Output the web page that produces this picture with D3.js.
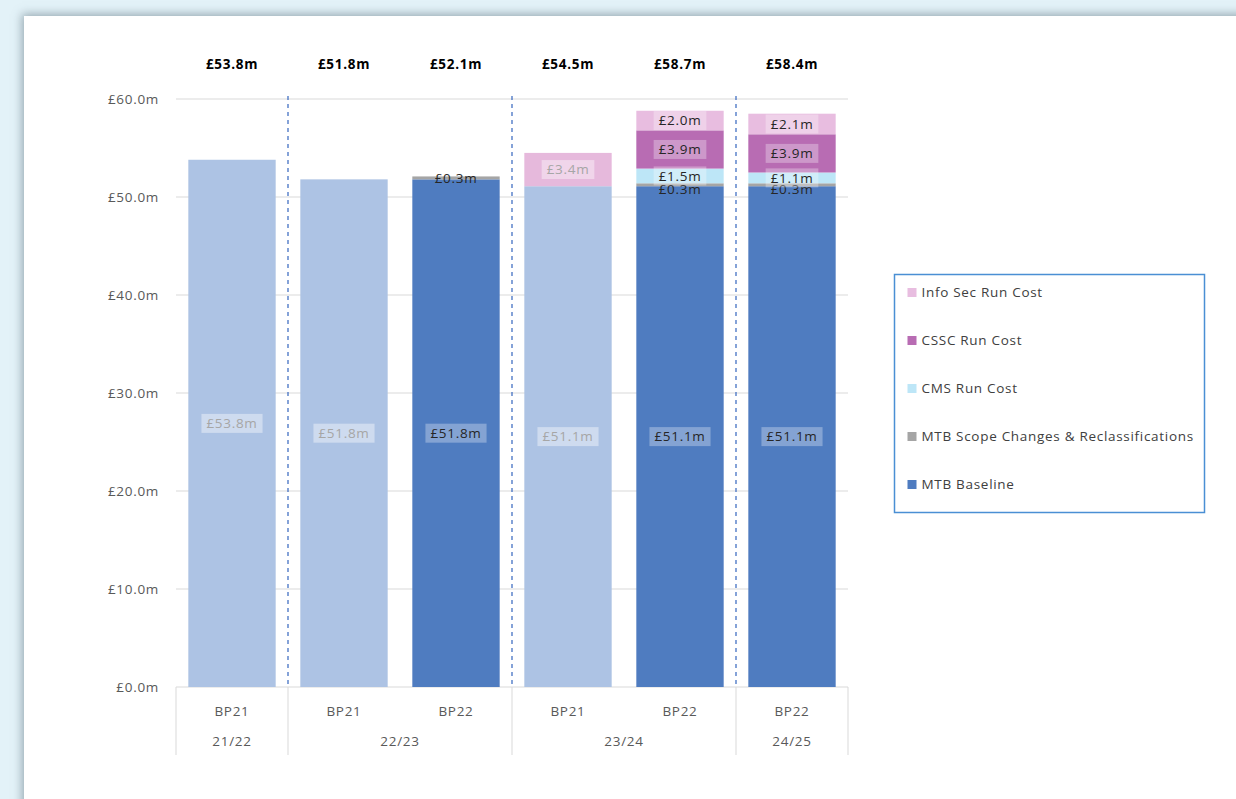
<!DOCTYPE html>
<html>
<head>
<meta charset="utf-8">
<script src="https://cdn.jsdelivr.net/npm/d3@7"></script>
<style>
  html, body { margin: 0; padding: 0; overflow: hidden; background: #e3f2f8; }
  #card { position: absolute; left: 24px; top: 16px; width: 1300px; height: 900px;
          background: #fff; box-shadow: 0 0 9px 2px rgba(90, 110, 120, 0.55); }
  #chart { position: absolute; left: 0; top: 0; }
  text { font-family: "Open Sans", "Noto Sans", sans-serif; letter-spacing: 0.7px; }
</style>
</head>
<body>
<div id="card"></div>
<svg id="chart"></svg>
<script>
// plan / year for each bar
const plans = ["BP21", "BP21", "BP22", "BP21", "BP22", "BP22"];
const years = ["21/22", "22/23", "22/23", "23/24", "23/24", "24/25"];

// series, bottom to top (£m)
const seriesNames = ["MTB Baseline", "MTB Scope Changes & Reclassifications", "CMS Run Cost", "CSSC Run Cost", "Info Sec Run Cost"];
const mtbBaseline = [53.8, 51.8, 51.8, 51.1, 51.1, 51.1];
const scopeChanges = [0, 0, 0.3, 0, 0.3, 0.3];
const cmsRun = [0, 0, 0, 0, 1.5, 1.1];
const csscRun = [0, 0, 0, 0, 3.9, 3.9];
const infoSecRun = [0, 0, 0, 3.4, 2.0, 2.1];
const totals = [53.8, 51.8, 52.1, 54.5, 58.7, 58.4];

const yTicks = [0, 10, 20, 30, 40, 50, 60];

const colors = ["#4f7cc0", "#a5a5a5", "#bde6f7", "#b86cb3", "#e8bde0"];
const fadedColors = ["#adc3e4", "#d2d2d2", "#def3fb", "#dbb6d9", "#e6b9dc"];

const W = 1236, H = 799;
const svg = d3.select("#chart").attr("width", W).attr("height", H);

const plot = { left: 176, right: 848, top: 99, bottom: 687 };
const fs = 13.5;

const rows = plans.map((p, i) => ({
  i, plan: p, year: years[i],
  [seriesNames[0]]: mtbBaseline[i],
  [seriesNames[1]]: scopeChanges[i],
  [seriesNames[2]]: cmsRun[i],
  [seriesNames[3]]: csscRun[i],
  [seriesNames[4]]: infoSecRun[i]
}));

const stacked = d3.stack().keys(seriesNames)(rows);

const x = d3.scaleBand()
  .domain(rows.map(d => d.i))
  .range([plot.left, plot.right])
  .paddingInner(0.22)
  .paddingOuter(0.11);

const y = d3.scaleLinear().domain([0, 60]).range([plot.bottom, plot.top]);

const fmt = v => "£" + d3.format(".1f")(v) + "m";

// gridlines
svg.append("g")
  .selectAll("line")
  .data(yTicks)
  .join("line")
  .attr("x1", plot.left).attr("x2", plot.right)
  .attr("y1", d => y(d)).attr("y2", d => y(d))
  .attr("stroke", "#d9d9d9").attr("stroke-width", 1);

// y axis labels
svg.append("g")
  .selectAll("text")
  .data(yTicks)
  .join("text")
  .attr("x", 159)
  .attr("y", d => y(d))
  .attr("dy", "0.35em")
  .attr("text-anchor", "end")
  .attr("font-size", fs)
  .attr("fill", "#595959")
  .text(d => fmt(d));

// bars
const layers = svg.append("g").selectAll("g")
  .data(stacked)
  .join("g");

layers.selectAll("rect")
  .data((s, si) => s.map(d => ({ d, si })))
  .join("rect")
  .attr("x", ({ d }) => x(d.data.i))
  .attr("width", x.bandwidth())
  .attr("y", ({ d }) => y(d[1]))
  .attr("height", ({ d }) => y(d[0]) - y(d[1]))
  .attr("fill", ({ d, si }) => d.data.plan === "BP21" ? fadedColors[si] : colors[si]);

// group boundaries
const groupStarts = rows.filter((r, i) => i === 0 || r.year !== rows[i - 1].year).map(r => r.i);
const step = x.step();
const boundaryX = i => x(i) - step * x.paddingInner() / 2;
const innerBounds = groupStarts.slice(1).map(boundaryX);

svg.append("g")
  .selectAll("line")
  .data(innerBounds)
  .join("line")
  .attr("x1", d => d).attr("x2", d => d)
  .attr("y1", plot.top - 3).attr("y2", plot.bottom)
  .attr("stroke", "#4472c4").attr("stroke-width", 1.3)
  .attr("stroke-dasharray", "4,4");

// data labels
const labels = [];
stacked.forEach((s, si) => {
  s.forEach((d, j) => {
    const v = d[1] - d[0];
    if (v <= 0) return;
    const hasAbove = stacked.slice(si + 1).some(t => t[j][1] - t[j][0] > 0);
    let cy = (y(d[0]) + y(d[1])) / 2;
    if (v < 1 && hasAbove) cy += 5;
    labels.push({ i: d.data.i, plan: d.data.plan, v, cy, small: v < 1 });
  });
});

const lg = svg.append("g").selectAll("g")
  .data(labels)
  .join("g")
  .attr("transform", d => `translate(${x(d.i) + x.bandwidth() / 2},${d.cy})`);

lg.append("text")
  .attr("text-anchor", "middle")
  .attr("dy", "0.35em")
  .attr("font-size", fs)
  .attr("fill", d => d.plan === "BP21" ? "#a6a6a6" : "#262626")
  .text(d => fmt(d.v))
  .each(function (d) { d.bw = this.getComputedTextLength(); });

lg.filter(d => !d.small)
  .insert("rect", "text")
  .attr("x", d => -d.bw / 2 - 5)
  .attr("y", -9.5)
  .attr("width", d => d.bw + 10)
  .attr("height", 19)
  .attr("fill", "#fff")
  .attr("fill-opacity", d => d.plan === "BP21" ? 0.4 : 0.3);

// totals on top
svg.append("g")
  .selectAll("text")
  .data(rows)
  .join("text")
  .attr("x", d => x(d.i) + x.bandwidth() / 2)
  .attr("y", 64)
  .attr("dy", "0.35em")
  .attr("text-anchor", "middle")
  .attr("font-size", fs)
  .attr("font-weight", "bold")
  .attr("fill", "#000")
  .text(d => fmt(totals[d.i]));

// category axis table
const axisBottom = 755;
const tableLines = [plot.left, ...innerBounds, plot.right];
svg.append("g")
  .selectAll("line")
  .data(tableLines)
  .join("line")
  .attr("x1", d => d).attr("x2", d => d)
  .attr("y1", plot.bottom).attr("y2", axisBottom)
  .attr("stroke", "#d9d9d9").attr("stroke-width", 1);

svg.append("g")
  .selectAll("text")
  .data(rows)
  .join("text")
  .attr("x", d => x(d.i) + x.bandwidth() / 2)
  .attr("y", 711)
  .attr("dy", "0.35em")
  .attr("text-anchor", "middle")
  .attr("font-size", fs)
  .attr("fill", "#595959")
  .text(d => d.plan);

const groups = groupStarts.map((s, k) => {
  const end = k + 1 < groupStarts.length ? boundaryX(groupStarts[k + 1]) : plot.right;
  const start = k === 0 ? plot.left : boundaryX(s);
  return { year: rows[s].year, cx: (start + end) / 2 };
});

svg.append("g")
  .selectAll("text")
  .data(groups)
  .join("text")
  .attr("x", d => d.cx)
  .attr("y", 741)
  .attr("dy", "0.35em")
  .attr("text-anchor", "middle")
  .attr("font-size", fs)
  .attr("fill", "#595959")
  .text(d => d.year);

// legend
const legend = svg.append("g").attr("transform", "translate(894.5,274.5)");
legend.append("rect")
  .attr("width", 310).attr("height", 238)
  .attr("fill", "#fff")
  .attr("stroke", "#4a8fd4").attr("stroke-width", 1.5);

const legendItems = seriesNames.map((n, si) => ({ n, si })).reverse();
const li = legend.selectAll("g.item")
  .data(legendItems)
  .join("g")
  .attr("class", "item")
  .attr("transform", (d, k) => `translate(13,${18 + k * 48})`);

li.append("rect")
  .attr("y", -4.5)
  .attr("width", 9).attr("height", 9)
  .attr("fill", d => colors[d.si]);

li.append("text")
  .attr("x", 14)
  .attr("dy", "0.35em")
  .attr("font-size", fs)
  .attr("fill", "#404040")
  .text(d => d.n);
</script>
</body>
</html>
